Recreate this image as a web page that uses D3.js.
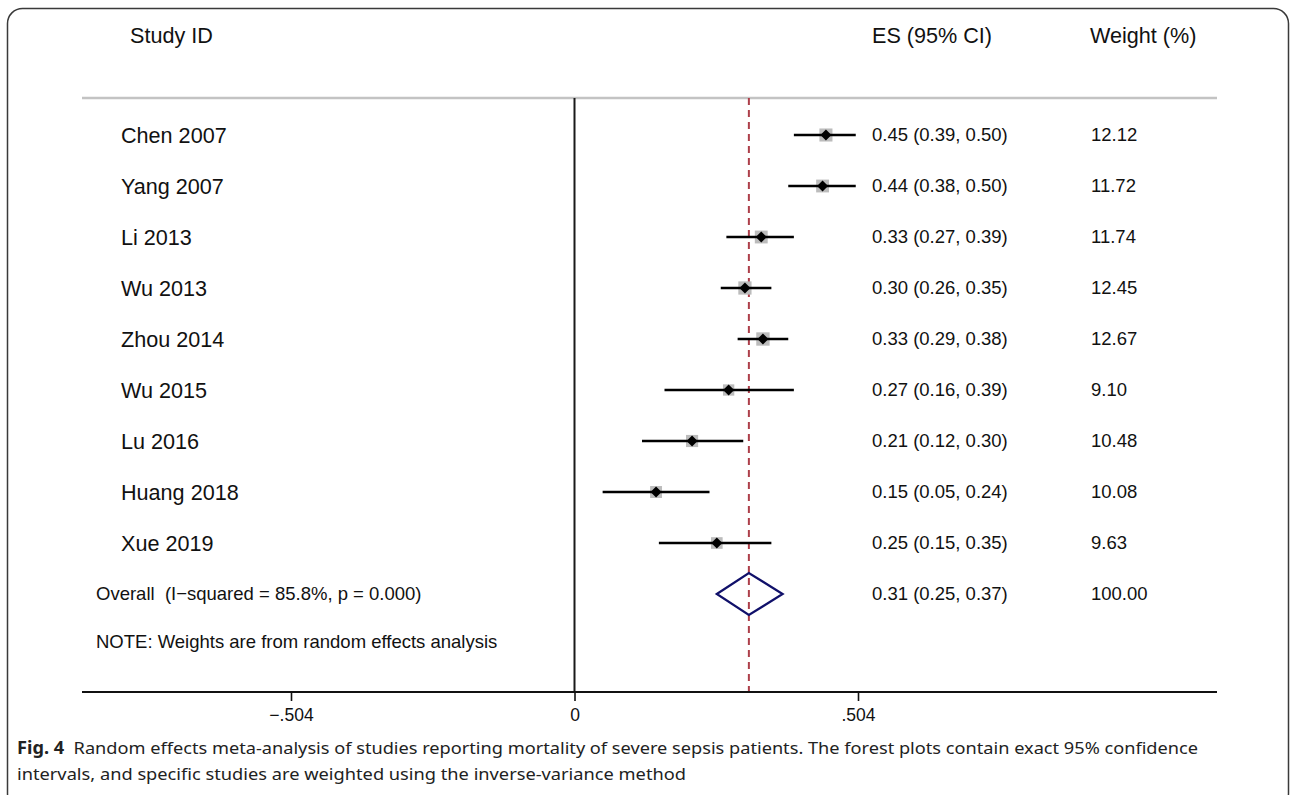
<!DOCTYPE html>
<html>
<head>
<meta charset="utf-8">
<script src="https://cdn.jsdelivr.net/npm/d3@7"></script>
<style>
  html, body { margin: 0; padding: 0; background: #fff; }
  svg { display: block; }
  text { white-space: pre; }
</style>
</head>
<body>
<svg id="chart" width="1292" height="795"></svg>
<script>
// ---- data ----
const studies = ["Chen 2007", "Yang 2007", "Li 2013", "Wu 2013", "Zhou 2014", "Wu 2015", "Lu 2016", "Huang 2018", "Xue 2019"];
const es      = [0.447, 0.441, 0.332, 0.303, 0.335, 0.274, 0.209, 0.145, 0.253];
const lower   = [0.39, 0.38, 0.27, 0.26, 0.29, 0.16, 0.12, 0.05, 0.15];
const upper   = [0.50, 0.50, 0.39, 0.35, 0.38, 0.39, 0.30, 0.24, 0.35];
const esLabels = ["0.45 (0.39, 0.50)", "0.44 (0.38, 0.50)", "0.33 (0.27, 0.39)", "0.30 (0.26, 0.35)", "0.33 (0.29, 0.38)", "0.27 (0.16, 0.39)", "0.21 (0.12, 0.30)", "0.15 (0.05, 0.24)", "0.25 (0.15, 0.35)"];
const weights = ["12.12", "11.72", "11.74", "12.45", "12.67", "9.10", "10.48", "10.08", "9.63"];
const overall = { es: 0.31, lower: 0.253, upper: 0.37, label: "0.31 (0.25, 0.37)", weight: "100.00" };
const overallText = "Overall  (I\u2212squared = 85.8%, p = 0.000)";
const noteText = "NOTE: Weights are from random effects analysis";
const tickValues = [-0.504, 0, 0.504];
const tickLabels = ["\u2212.504", "0", ".504"];
const headers = ["Study ID", "ES (95% CI)", "Weight (%)"];
const captionBold = "Fig. 4";
const captionLine1 = "Random effects meta-analysis of studies reporting mortality of severe sepsis patients. The forest plots contain exact 95% confidence";
const captionLine2 = "intervals, and specific studies are weighted using the inverse-variance method";

// ---- layout ----
const svg = d3.select("#chart");
const font = "'Liberation Sans', Arial, sans-serif";
const x = d3.scaleLinear().domain([-0.504, 0.504]).range([291, 858]);
const y = d3.scaleLinear().domain([0, 1]).range([135, 186]); // row index -> y
const plotTop = 98, plotBottom = 692;
const lineLeft = 82, lineRight = 1217;

// frame
svg.append("rect")
  .attr("x", 7.5).attr("y", 8.5).attr("width", 1281).attr("height", 800)
  .attr("rx", 15).attr("ry", 15)
  .attr("fill", "none").attr("stroke", "#3a3a3a").attr("stroke-width", 1.5);

// headers
const headerX = [130, 872, 1090];
svg.selectAll("text.header").data(headers).join("text")
  .attr("class", "header")
  .attr("x", (d, i) => headerX[i]).attr("y", 35)
  .attr("dy", "0.35em")
  .attr("font-family", font).attr("font-size", 21.6).attr("fill", "#111")
  .text(d => d);

// top gray line
svg.append("line")
  .attr("x1", lineLeft).attr("x2", lineRight)
  .attr("y1", plotTop).attr("y2", plotTop)
  .attr("stroke", "#c3c3c3").attr("stroke-width", 2.5);

// zero line
svg.append("line")
  .attr("x1", x(0)).attr("x2", x(0))
  .attr("y1", plotTop).attr("y2", plotBottom)
  .attr("stroke", "#1a1a1a").attr("stroke-width", 2);

// dashed overall line
svg.append("line")
  .attr("x1", x(overall.es)).attr("x2", x(overall.es))
  .attr("y1", plotTop).attr("y2", plotBottom)
  .attr("stroke", "#ad3f4a").attr("stroke-width", 2)
  .attr("stroke-dasharray", "7,5");

// x axis
const axis = d3.axisBottom(x).tickValues(tickValues)
  .tickFormat((d, i) => tickLabels[i]).tickSize(9).tickPadding(8);
const gAxis = svg.append("g").attr("transform", `translate(0,${plotBottom})`).call(axis);
gAxis.select(".domain").remove();
gAxis.selectAll(".tick line").attr("stroke", "#111").attr("stroke-width", 1.6);
gAxis.selectAll(".tick text").attr("font-family", font).attr("font-size", 17.5).attr("fill", "#111");
svg.append("line")
  .attr("x1", lineLeft).attr("x2", lineRight)
  .attr("y1", plotBottom).attr("y2", plotBottom)
  .attr("stroke", "#111").attr("stroke-width", 2.2);

// rows
const rows = svg.selectAll("g.row").data(studies).join("g").attr("class", "row");
rows.append("text")
  .attr("x", 121).attr("y", (d, i) => y(i)).attr("dy", "0.35em")
  .attr("font-family", font).attr("font-size", 21.6).attr("fill", "#111")
  .text(d => d);
rows.append("rect")
  .each(function(d, i) {
    const s = 3.75 * Math.sqrt(+weights[i]);
    d3.select(this)
      .attr("x", x(es[i]) - s / 2).attr("y", y(i) - s / 2)
      .attr("width", s).attr("height", s);
  })
  .attr("fill", "#bcbcbc");
rows.append("line")
  .attr("x1", (d, i) => x(lower[i])).attr("x2", (d, i) => x(upper[i]))
  .attr("y1", (d, i) => y(i)).attr("y2", (d, i) => y(i))
  .attr("stroke", "#000").attr("stroke-width", 2.4);
rows.append("path")
  .attr("d", (d, i) => {
    const cx = x(es[i]), cy = y(i), r = 5.5;
    return `M${cx},${cy - r}L${cx + r},${cy}L${cx},${cy + r}L${cx - r},${cy}Z`;
  })
  .attr("fill", "#000");
rows.append("text")
  .attr("x", 872).attr("y", (d, i) => y(i)).attr("dy", "0.35em")
  .attr("font-family", font).attr("font-size", 18.5).attr("fill", "#111")
  .text((d, i) => esLabels[i]);
rows.append("text")
  .attr("x", 1091).attr("y", (d, i) => y(i)).attr("dy", "0.35em")
  .attr("font-family", font).attr("font-size", 18.5).attr("fill", "#111")
  .text((d, i) => weights[i]);

// overall row
const oy = y(studies.length);
svg.append("text")
  .attr("x", 96).attr("y", oy).attr("dy", "0.35em")
  .attr("font-family", font).attr("font-size", 18.5).attr("fill", "#111")
  .text(overallText);
svg.append("path")
  .attr("d", `M${x(overall.lower)},${oy}L${x(overall.es)},${oy - 21}L${x(overall.upper)},${oy}L${x(overall.es)},${oy + 21}Z`)
  .attr("fill", "none").attr("stroke", "#10106a").attr("stroke-width", 2.2);
svg.append("text")
  .attr("x", 872).attr("y", oy).attr("dy", "0.35em")
  .attr("font-family", font).attr("font-size", 18.5).attr("fill", "#111")
  .text(overall.label);
svg.append("text")
  .attr("x", 1091).attr("y", oy).attr("dy", "0.35em")
  .attr("font-family", font).attr("font-size", 18.5).attr("fill", "#111")
  .text(overall.weight);

// note
svg.append("text")
  .attr("x", 96).attr("y", y(studies.length + 1) - 3).attr("dy", "0.35em")
  .attr("font-family", font).attr("font-size", 18.5).attr("fill", "#111")
  .text(noteText);

// caption
const capFont = "'Noto Sans', 'Open Sans', sans-serif";
const cap1 = svg.append("text")
  .attr("x", 17).attr("y", 754)
  .attr("font-family", capFont).attr("font-size", 17).attr("fill", "#222")
  .attr("textLength", 1181).attr("lengthAdjust", "spacingAndGlyphs");
cap1.append("tspan").attr("font-weight", "bold").text(captionBold);
cap1.append("tspan").text("  " + captionLine1);
svg.append("text")
  .attr("x", 17).attr("y", 780)
  .attr("font-family", capFont).attr("font-size", 17).attr("fill", "#222")
  .attr("textLength", 669).attr("lengthAdjust", "spacingAndGlyphs")
  .text(captionLine2);
</script>
</body>
</html>
